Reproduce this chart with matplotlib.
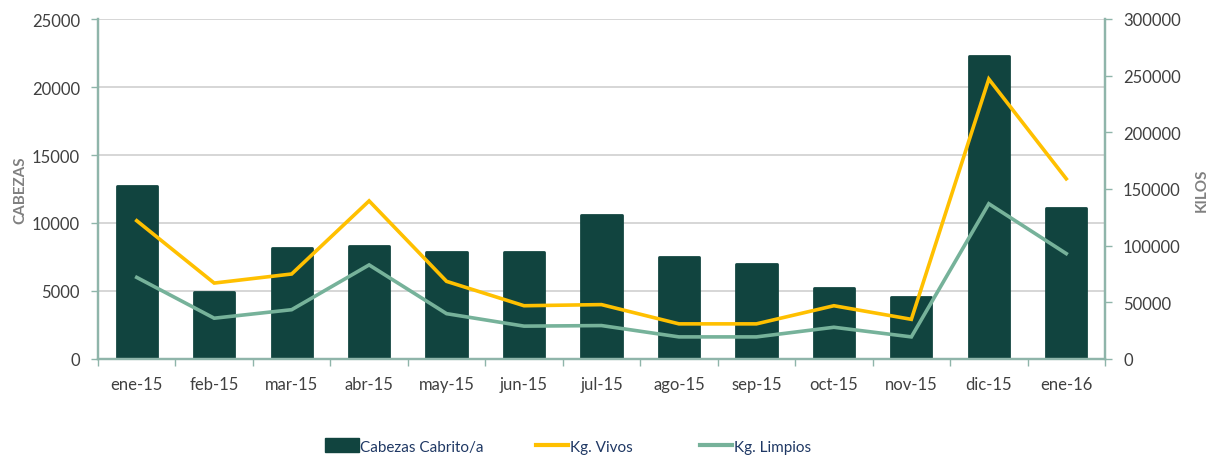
import matplotlib
matplotlib.use("Agg")
import matplotlib.pyplot as plt
from matplotlib.patches import Patch
from matplotlib.lines import Line2D
import numpy as np

months = ["ene-15", "feb-15", "mar-15", "abr-15", "may-15", "jun-15", "jul-15",
          "ago-15", "sep-15", "oct-15", "nov-15", "dic-15", "ene-16"]
cabezas = [12750, 4950, 8150, 8300, 7850, 7900, 10600, 7500, 7000, 5250, 4550, 22250, 11100]
kg_vivos = [122000, 67000, 75000, 139500, 68500, 47000, 48000, 31000, 31000, 47000, 35000, 247000, 159000]
kg_limpios = [72000, 36000, 43500, 83000, 40000, 29000, 29500, 19500, 19500, 28000, 19500, 137000, 93000]

bar_color = "#11443F"
yellow = "#FFC000"
green = "#76B29A"
spine_c = "#8FB5AA"
grid_c = "#D0D0D0"
text_c = "#404040"
label_c = "#808080"
legend_c = "#1F3864"

plt.rcParams['font.family'] = ['Lato', 'DejaVu Sans']

fig = plt.figure(figsize=(12.17, 4.6), dpi=100)
ax = fig.add_axes([98/1217, 1-360/460, (1105-98)/1217, 340/460])
ax2 = ax.twinx()

x = np.arange(len(months))
ax.bar(x, cabezas, width=0.52, color=bar_color, edgecolor=bar_color,
       linewidth=2, joinstyle='round', zorder=2)
ax2.plot(x, kg_vivos, color=yellow, lw=2.6, solid_joinstyle='miter', zorder=3)
ax2.plot(x, kg_limpios, color=green, lw=2.6, solid_joinstyle='miter', zorder=3)

ax.set_xlim(-0.5, len(months)-0.5)
ax.set_ylim(0, 25000)
ax2.set_ylim(0, 300000)
ax.set_yticks(np.arange(0, 25001, 5000))
ax2.set_yticks(np.arange(0, 300001, 50000))
ax.yaxis.grid(True, color=grid_c, lw=1.2, zorder=0)
ax.set_axisbelow(True)

ax.set_xticks(x)
ax.set_xticklabels(months)
ax.set_xticks(np.arange(-0.5, len(months), 1.0), minor=True)
ax.tick_params(axis='x', which='major', length=0, pad=12, labelsize=12, labelcolor=text_c)
ax.tick_params(axis='x', which='minor', length=5, color=spine_c, width=1, direction='out')
ax.tick_params(axis='y', length=5, color=spine_c, width=1, labelsize=12, labelcolor=text_c, pad=8)
ax2.tick_params(axis='y', length=5, color=spine_c, width=1, labelsize=12, labelcolor=text_c, pad=8)

for a in (ax, ax2):
    a.spines['top'].set_visible(False)
    for s in ('left', 'right', 'bottom'):
        a.spines[s].set_color(spine_c)
        a.spines[s].set_linewidth(1.6)

ax.set_ylabel("CABEZAS", fontsize=11, fontweight='bold', color=label_c, labelpad=3)
ax2.set_ylabel("KILOS", fontsize=11, fontweight='bold', color=label_c, labelpad=10, rotation=90)

ly = 1 - 447/460
h1 = Patch(facecolor=bar_color, edgecolor=bar_color)
h2 = Line2D([0], [0], color=yellow, lw=3)
h3 = Line2D([0], [0], color=green, lw=3)
for h, lab, px, hl in [(h1, "Cabezas Cabrito/a", 325, 2.2), (h2, "Kg. Vivos", 536, 2.1), (h3, "Kg. Limpios", 700, 2.1)]:
    leg = fig.legend([h], [lab], loc='center left', bbox_to_anchor=(px/1217, ly),
                     frameon=False, borderpad=0, borderaxespad=0, handlelength=hl,
                     handleheight=1.0, handletextpad=0.1, fontsize=11)
    for t in leg.get_texts():
        t.set_color(legend_c)

fig.savefig("out.png", dpi=100)
